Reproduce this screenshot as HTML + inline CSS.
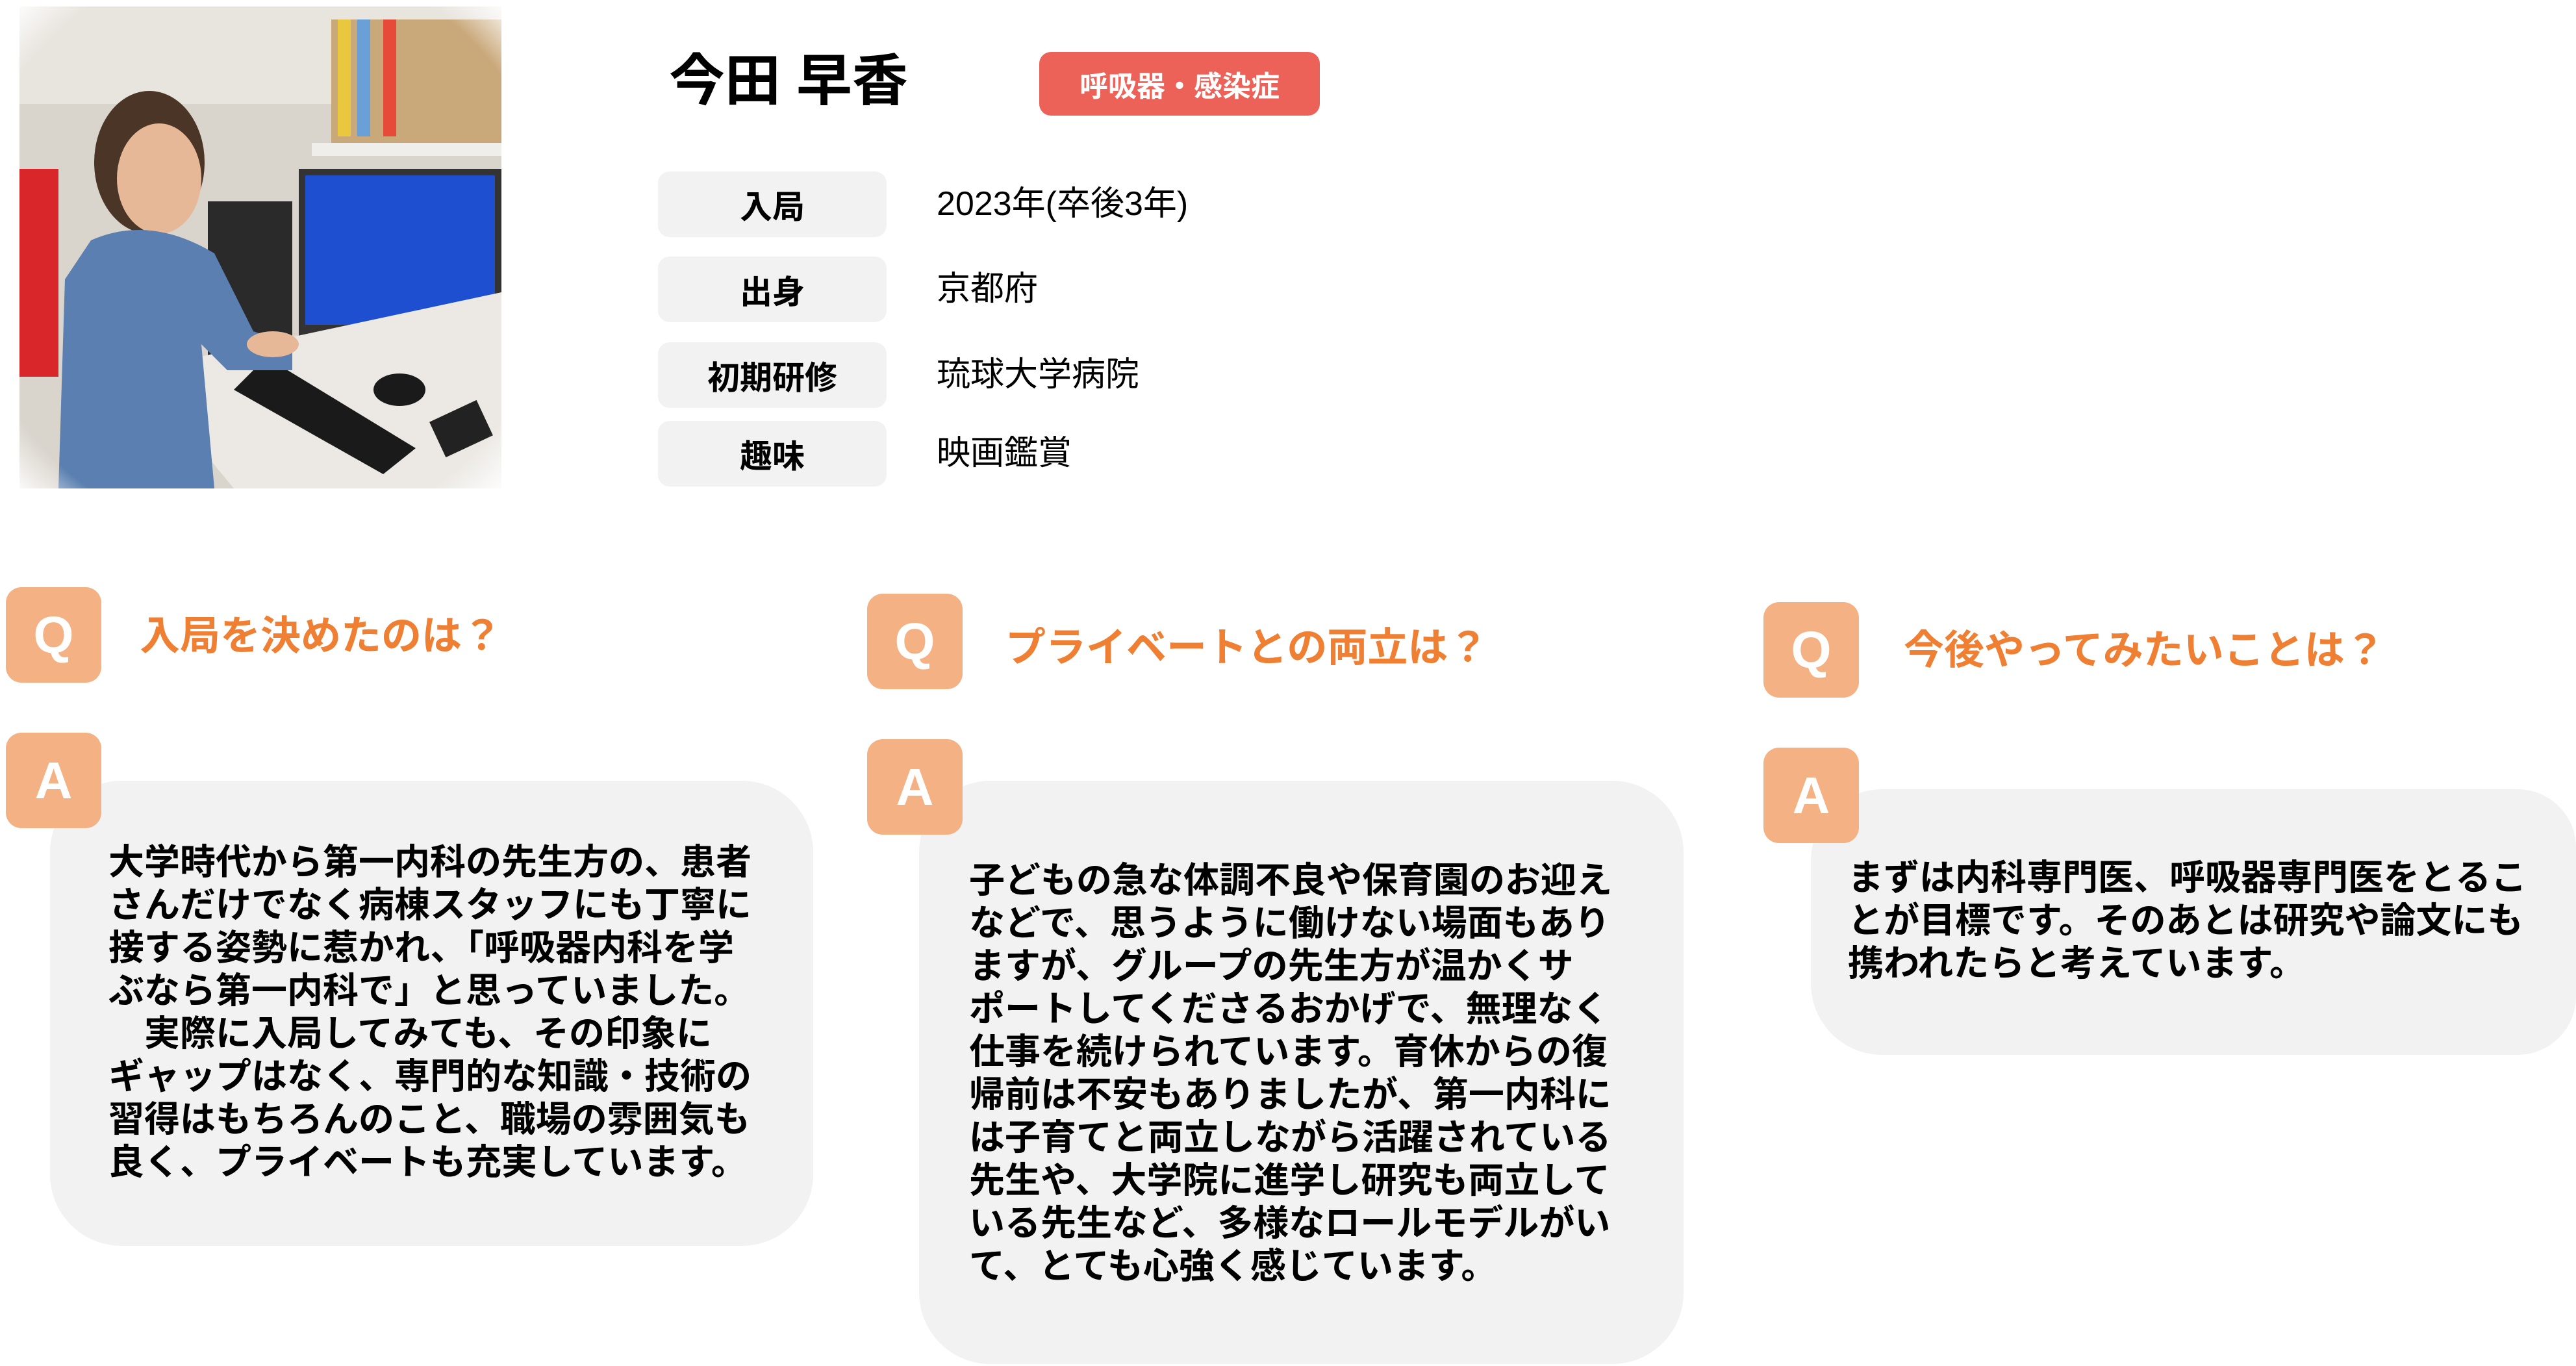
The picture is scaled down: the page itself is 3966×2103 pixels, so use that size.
<!DOCTYPE html>
<html><head><meta charset="utf-8"><style>
*{margin:0;padding:0;box-sizing:border-box}
body{width:3966px;height:2103px;background:#fff;position:relative;overflow:hidden;font-family:"Liberation Sans","Noto Sans CJK JP",sans-serif;color:#000}
.a{position:absolute}
.lbl{position:absolute;left:1013px;width:352px;height:101px;background:#f2f2f2;border-radius:18px;font-weight:bold;font-size:50px;display:flex;align-items:center;justify-content:center}
.val{position:absolute;left:1442px;font-size:52px;line-height:101px;height:101px}
.qa{position:absolute;width:147px;height:147px;background:#f4b183;border-radius:24px;color:#fff;font-size:80px;font-weight:bold;display:flex;align-items:center;justify-content:center;font-family:"Liberation Sans",sans-serif}
.qt{position:absolute;color:#ee7f33;font-size:62px;font-weight:bold;line-height:70px}
.bub{position:absolute;background:#f2f2f2;border-radius:110px}
.tx{position:absolute;font-size:55px;line-height:66px;font-weight:bold;white-space:nowrap}
</style></head><body>
<svg class="a" style="left:30px;top:10px" width="742" height="742" viewBox="0 0 742 742">
<defs><radialGradient id="f" cx="50%" cy="50%" r="72%"><stop offset="85%" stop-color="#fff" stop-opacity="0"/><stop offset="100%" stop-color="#fff"/></radialGradient></defs>
<rect width="742" height="742" fill="#d9d4cc"/>
<rect x="0" y="0" width="742" height="150" fill="#e8e4de"/>
<rect x="480" y="20" width="262" height="200" fill="#c9a87a"/>
<rect x="490" y="20" width="20" height="180" fill="#e9c840"/><rect x="520" y="20" width="20" height="180" fill="#6aa0d8"/><rect x="560" y="20" width="20" height="180" fill="#e84a3a"/>
<rect x="450" y="210" width="292" height="20" fill="#f0eeea"/>
<rect x="430" y="250" width="312" height="260" fill="#333"/>
<rect x="440" y="260" width="292" height="230" fill="#1e4fd0"/>
<rect x="290" y="300" width="130" height="280" fill="#2a2a2a"/>
<polygon points="180,560 742,440 742,742 330,742" fill="#ece9e4"/>
<polygon points="380,540 610,680 560,720 330,590" fill="#1a1a1a"/>
<ellipse cx="585" cy="590" rx="40" ry="25" fill="#1a1a1a"/>
<rect x="640" y="620" width="80" height="60" fill="#222" transform="rotate(-25 680 650)"/>
<rect x="0" y="250" width="60" height="320" fill="#d8262b"/>
<ellipse cx="200" cy="240" rx="85" ry="110" fill="#4a3526"/>
<ellipse cx="215" cy="265" rx="65" ry="85" fill="#e6b898"/>
<path d="M110 360 Q200 320 300 380 L360 500 L420 520 L420 560 L320 560 L280 520 L300 742 L60 742 L70 420 Z" fill="#5a7fb0"/>
<ellipse cx="390" cy="520" rx="40" ry="20" fill="#e6b898"/>
<rect width="742" height="742" fill="url(#f)"/>
</svg>
<div class="a" style="left:1030px;top:70px;font-size:86px;font-weight:bold;line-height:110px">今田&nbsp;早香</div>
<div class="a" style="left:1600px;top:80px;width:432px;height:98px;background:#ec6258;border-radius:18px;color:#fff;font-size:44px;font-weight:bold;display:flex;align-items:center;justify-content:center">呼吸器・感染症</div>
<div class="lbl" style="top:264px">入局</div><div class="val" style="top:264px">2023年(卒後3年)</div>
<div class="lbl" style="top:395px">出身</div><div class="val" style="top:395px">京都府</div>
<div class="lbl" style="top:527px">初期研修</div><div class="val" style="top:527px">琉球大学病院</div>
<div class="lbl" style="top:648px">趣味</div><div class="val" style="top:648px">映画鑑賞</div>

<div class="bub" style="left:77px;top:1202px;width:1175px;height:716px"></div>
<div class="bub" style="left:1415px;top:1202px;width:1177px;height:898px"></div>
<div class="bub" style="left:2788px;top:1215px;width:1178px;height:409px;border-radius:110px 90px 90px 110px"></div>

<div class="qa" style="left:9px;top:904px">Q</div>
<div class="qt" style="left:215px;top:945px">入局を決めたのは？</div>
<div class="qa" style="left:9px;top:1128px">A</div>
<div class="qa" style="left:1335px;top:914px">Q</div>
<div class="qt" style="left:1548px;top:963px">プライベートとの両立は？</div>
<div class="qa" style="left:1335px;top:1138px">A</div>
<div class="qa" style="left:2715px;top:927px">Q</div>
<div class="qt" style="left:2931px;top:967px">今後やってみたいことは？</div>
<div class="qa" style="left:2715px;top:1151px">A</div>

<div class="tx" style="left:167px;top:1294px">大学時代から第一内科の先生方の、患者<br>さんだけでなく病棟スタッフにも丁寧に<br>接する姿勢に惹かれ、「呼吸器内科を学<br>ぶなら第一内科で」と思っていました。<br>　実際に入局してみても、その印象に<br>ギャップはなく、専門的な知識・技術の<br>習得はもちろんのこと、職場の雰囲気も<br>良く、プライベートも充実しています。</div>
<div class="tx" style="left:1492px;top:1322px">子どもの急な体調不良や保育園のお迎え<br>などで、思うように働けない場面もあり<br>ますが、グループの先生方が温かくサ<br>ポートしてくださるおかげで、無理なく<br>仕事を続けられています。育休からの復<br>帰前は不安もありましたが、第一内科に<br>は子育てと両立しながら活躍されている<br>先生や、大学院に進学し研究も両立して<br>いる先生など、多様なロールモデルがい<br>て、とても心強く感じています。</div>
<div class="tx" style="left:2845px;top:1318px">まずは内科専門医、呼吸器専門医をとるこ<br>とが目標です。そのあとは研究や論文にも<br>携われたらと考えています。</div>
</body></html>
